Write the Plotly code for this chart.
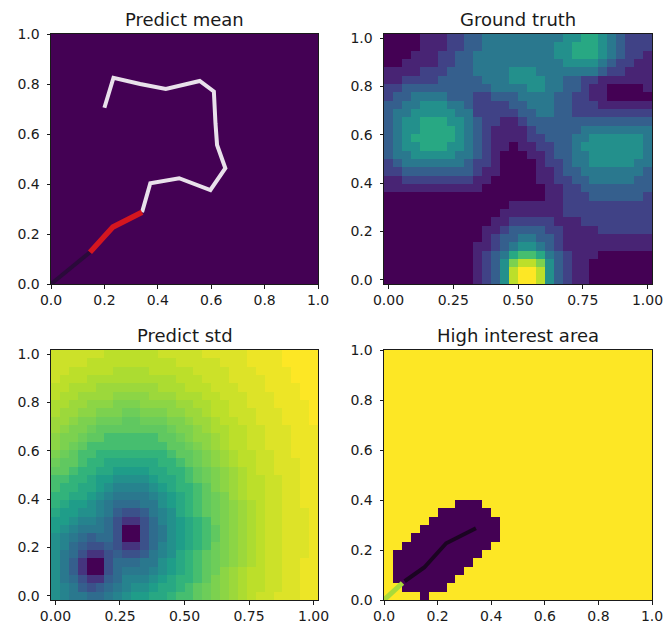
import plotly.graph_objects as go

# ---------------- data ----------------
N = 30
grid = [i / (N - 1) for i in range(N)]          # cell centres for GP grids
mask_centres = [(i + 0.5) / N for i in range(N)]  # cell centres for the mask

# Ground truth, rows from top (y=1) to bottom (y=0); chars 0-9,a -> value/10
GT_ROWS = [
    "000011122334444444445566543222",
    "000011122334444444455666543222",
    "000111223344444444455666543221",
    "001111223344444444445555432211",
    "111122233344445554444444322111",
    "112222333334445555443322111111",
    "223333333333444455443321100001",
    "233444433322333444433221100000",
    "334455544322223344433222111111",
    "344555554422222334433222222222",
    "345566655432211233333333333333",
    "345566665432111123333344444444",
    "345666665432111122333445555554",
    "345566655432110112233455555554",
    "344555554432100011233445555554",
    "234444444322100001223445555544",
    "223333333321100001123344444443",
    "112222222211000001122334444433",
    "111111111110000000112233333333",
    "000000000000000000112223333332",
    "000000000000001111112222222222",
    "000000000000011111112222222222",
    "000000000000112222211122222222",
    "000000000001123333221111222222",
    "000000000001233443321111111111",
    "000000000011234554321111111111",
    "000000000012346776432111000000",
    "000000000012358998532110000000",
    "000000000012359aa9532110000000",
    "000000000012359aa9532110000000",
]

# Predicted std, rows from top to bottom; alphabet index / 40
STD_ALPHA = "0123456789ABCDEFGHIJKLMNOPQRSTUVWXYZabcde"
STD_ROWS = [
    "bbbbbbaaaaaabbbbbcccccddddeeee",
    "bbbbaaaaaaaaaabbbbbcccddddeeee",
    "bbaaaaaZZZZaaaaabbbbcccddddeee",
    "baaaZZZZZZZZZZaaabbbccccdddeee",
    "aaZZZYYYYYYYZZZaaabbbcccddddee",
    "aZZYYYYXXXXYYYZZZaabbbcccdddee",
    "ZZYYXXXWWWXXXXYYZZaabbcccdddde",
    "ZYYXXWWWVVWWWXXYYZaabbbcccddde",
    "YYXWWVVVUUVVVWWXYYZaabbcccddde",
    "YXWWVUUUUUUUUVWWXYZZaabbcccddd",
    "XWWVUUSSSSSSUUVWXXYZaabbcccddd",
    "XWVUSSSSSSSSSUUVWXYZaabbcccddd",
    "WVUSSQQQQQQQQSUUVWXYZaabbccddd",
    "VUUSQQOOOOOOQQSUVWXYZaabbcccdd",
    "UUSQQOOMMMMOOQQSUVWXYZabbcccdd",
    "SSQQOMMKKKKMOOQSUVWXYZaabbccdd",
    "SQQOOMKIIIIKMOQQSUWXYZaabbccdd",
    "QQOOMKIGGGGIKMOQSUVWYZaabbccdd",
    "QOMMKIGEEEGGKMOQSUVWXYZabbccdd",
    "OMMKKIGCAACGIKOQSUVWXYZabbcccd",
    "MMKIIGEA66AEIKMOQSVWXYZabbcccd",
    "MKIGGGEA00AEGKMOQSUWXYZabbcccd",
    "KIGECEEA00AEGKMOQSUWXYZabbcccd",
    "KIECAACA66AEIKMOQSVWXYZabbcccd",
    "KGEA66ACAACGIKOQSUVWXYZabbcccd",
    "KGC600AEEEGGKMOQSUVWXYZabbccdd",
    "KGC600AEGGGIKMOQSUVXYZaabbccdd",
    "KGEA66CEIIIKMOQQSUWXYZaabbccdd",
    "KIGCACEGIKKMOOQSUVWXYZaabbccdd",
    "KIGGEEGIKMMOOQSSUVWXYZabbcccdd",
]

# Predicted mean (uniform, lowest colour), rows top to bottom
MEAN_ROWS = ["000000000000000000000000000000"] * 30

# High interest mask, rows top to bottom; 1 = yellow, 0 = dark
HIGH_ROWS = ["111111111111111111111111111111"] * 18 + [
    "111111110001111111111111111111",
    "111111000000111111111111111111",
    "111110000000011111111111111111",
    "111100000000011111111111111111",
    "111000000000011111111111111111",
    "110000000000111111111111111111",
    "100000000001111111111111111111",
    "100000000011111111111111111111",
    "100000000111111111111111111111",
    "100000001111111111111111111111",
    "110000011111111111111111111111",
    "111101111111111111111111111111",
]

# planned (white) path in the mean panel
plan_x = [0.20, 0.234, 0.334, 0.43, 0.557, 0.61, 0.616, 0.622, 0.653, 0.597, 0.48, 0.372, 0.341]
plan_y = [0.705, 0.825, 0.80, 0.78, 0.812, 0.77, 0.643, 0.556, 0.463, 0.376, 0.423, 0.403, 0.287]
# visited path (red)
visit_x = [0.341, 0.232, 0.146]
visit_y = [0.287, 0.228, 0.127]
# start leg
start_x = [0.0, 0.146]
start_y = [0.0, 0.127]
# high-interest panel lines
hi_start_x = [0.0, 0.069]
hi_start_y = [0.0, 0.068]
hi_path_x = [0.077, 0.150, 0.232, 0.343]
hi_path_y = [0.075, 0.130, 0.227, 0.287]


def decode(rows, alphabet, scale):
    return [[alphabet.index(ch) / scale for ch in row] for row in reversed(rows)]


gt = decode(GT_ROWS, "0123456789a", 10)
std = decode(STD_ROWS, STD_ALPHA, 40)
mean = decode(MEAN_ROWS, "0123456789", 10)
high = decode(HIGH_ROWS, "01", 1)

# ---------------- figure ----------------
W, H = 663, 623
fig = go.Figure()

hm = dict(colorscale="Viridis", zmin=0, zmax=1, showscale=False, hoverinfo="skip")
fig.add_trace(go.Heatmap(z=mean, x=grid, y=grid, xaxis="x", yaxis="y", **hm))
fig.add_trace(go.Scatter(x=start_x, y=start_y, mode="lines", xaxis="x", yaxis="y",
                         line=dict(color="#2a0a3a", width=4), showlegend=False))
fig.add_trace(go.Scatter(x=plan_x, y=plan_y, mode="lines", xaxis="x", yaxis="y",
                         line=dict(color="rgba(245,242,246,0.93)", width=4), showlegend=False))
fig.add_trace(go.Scatter(x=visit_x, y=visit_y, mode="lines", xaxis="x", yaxis="y",
                         line=dict(color="#d4161f", width=5.5), showlegend=False))

fig.add_trace(go.Heatmap(z=gt, x=grid, y=grid, xaxis="x2", yaxis="y2", **hm))
fig.add_trace(go.Heatmap(z=std, x=grid, y=grid, xaxis="x3", yaxis="y3", **hm))

fig.add_trace(go.Heatmap(z=high, x=mask_centres, y=mask_centres, xaxis="x4", yaxis="y4", **hm))
fig.add_trace(go.Scatter(x=hi_start_x, y=hi_start_y, mode="lines", xaxis="x4", yaxis="y4",
                         line=dict(color="#a9da3a", width=5), showlegend=False))
fig.add_trace(go.Scatter(x=hi_path_x, y=hi_path_y, mode="lines", xaxis="x4", yaxis="y4",
                         line=dict(color="rgba(15,5,20,0.78)", width=4), showlegend=False))

left_dom = [51 / W, 318 / W]
right_dom = [384 / W, 652 / W]
top_dom = [1 - 284 / H, 1 - 34 / H]
bot_dom = [1 - 600 / H, 1 - 350 / H]

tick_font = dict(family="DejaVu Sans", size=14, color="#1a1a1a")
base = dict(showgrid=False, zeroline=False, showline=True, mirror=True, linecolor="#1a1a1a",
            linewidth=1, ticks="outside", ticklen=3.5, tickwidth=0.9, tickcolor="#1a1a1a",
            tickfont=tick_font, fixedrange=True, automargin=False, ticklabeloverflow="allow")
ybase = dict(base, ticklabelstandoff=4)
xbase = dict(base)

t5 = [0.0, 0.2, 0.4, 0.6, 0.8, 1.0]
t5l = ["0.0", "0.2", "0.4", "0.6", "0.8", "1.0"]
t4 = [0.0, 0.25, 0.5, 0.75, 1.0]
t4l = ["0.00", "0.25", "0.50", "0.75", "1.00"]
pad = 1 / 58
full = [0, 1]
ext = [-pad, 1 + pad]

fig.update_layout(
    width=W, height=H, margin=dict(l=0, r=0, t=0, b=0, autoexpand=False),
    paper_bgcolor="white", plot_bgcolor="white", showlegend=False,
    xaxis=dict(domain=left_dom, anchor="y", range=full, tickvals=t5, ticktext=t5l, **xbase),
    yaxis=dict(domain=top_dom, anchor="x", range=full, tickvals=t5, ticktext=t5l, **ybase),
    xaxis2=dict(domain=right_dom, anchor="y2", range=ext, tickvals=t4, ticktext=t4l, **xbase),
    yaxis2=dict(domain=top_dom, anchor="x2", range=ext, tickvals=t5, ticktext=t5l, **ybase),
    xaxis3=dict(domain=left_dom, anchor="y3", range=ext, tickvals=t4, ticktext=t4l, **xbase),
    yaxis3=dict(domain=bot_dom, anchor="x3", range=ext, tickvals=t5, ticktext=t5l, **ybase),
    xaxis4=dict(domain=right_dom, anchor="y4", range=full, tickvals=t5, ticktext=t5l, **xbase),
    yaxis4=dict(domain=bot_dom, anchor="x4", range=full, tickvals=t5, ticktext=t5l, **ybase),
)

title_font = dict(family="DejaVu Sans", size=18, color="#1a1a1a")
titles = [("Predict mean", left_dom, top_dom), ("Ground truth", right_dom, top_dom),
          ("Predict std", left_dom, bot_dom), ("High interest area", right_dom, bot_dom)]
for text, xd, yd in titles:
    fig.add_annotation(text=text, xref="paper", yref="paper", x=(xd[0] + xd[1]) / 2, y=yd[1],
                       xanchor="center", yanchor="bottom", yshift=2, showarrow=False, font=title_font)

fig.write_html("out.html", config={"displayModeBar": False},
               post_script="document.body.style.margin='0';document.body.style.padding='0';"
                           "document.documentElement.style.overflow='hidden';")
